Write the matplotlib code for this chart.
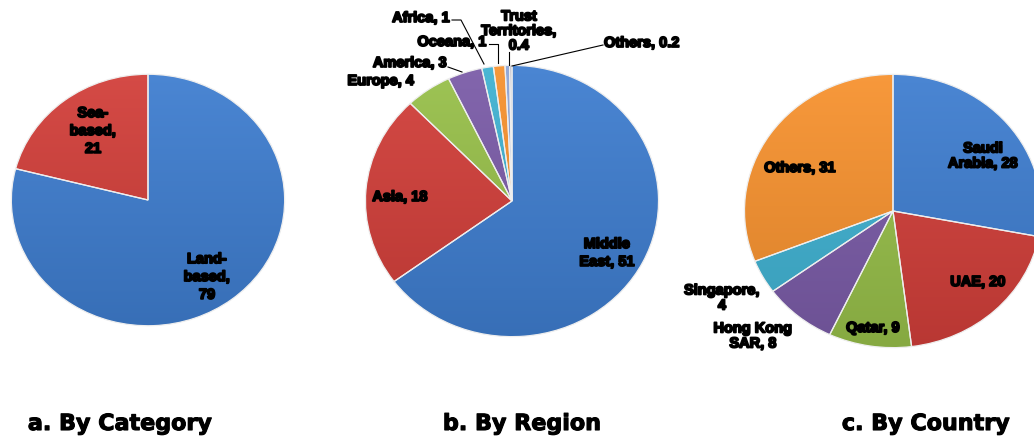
import numpy as np
import matplotlib
matplotlib.use("Agg")
import matplotlib.pyplot as plt
from matplotlib.colors import LinearSegmentedColormap, to_rgb
from matplotlib.lines import Line2D
import matplotlib.patheffects as pe

# a. By Category
cat_names = ["Land-\nbased", "Sea-\nbased"]
cat_values = [79, 21]
cat_sep = ["\n", "\n"]

# b. By Region
reg_names = ["Middle\nEast", "Asia", "Europe", "America", "Africa", "Oceana",
             "Trust\nTerritories", "Others"]
reg_values = [51, 18, 4, 3, 1, 1, 0.4, 0.2]
reg_sep = [" ", " ", " ", " ", " ", " ", "\n", " "]

# c. By Country
cty_names = ["Saudi\nArabia", "UAE", "Qatar", "Hong Kong\nSAR", "Singapore", "Others"]
cty_values = [28, 20, 9, 8, 4, 31]
cty_sep = [" ", " ", " ", " ", "\n", " "]

titles = ["a. By Category", "b. By Region", "c. By Country"]

blue, red, green, purple = "#3F7ED0", "#D23F3A", "#98C04A", "#7B5CA8"
cyan, orange, lblue, grey = "#40B2D2", "#F7922F", "#8EA5D6", "#9A9AAE"
cat_colors = [blue, red]
reg_colors = [blue, red, green, purple, cyan, orange, lblue, grey]
cty_colors = [blue, red, green, purple, cyan, orange]

W, H = 1034, 438
fig = plt.figure(figsize=(W / 100, H / 100), dpi=100)

lab_font = dict(family=["Liberation Sans", "DejaVu Sans"], weight="bold",
                fontsize=10.5, ha="center", va="center", linespacing=1.35,
                path_effects=[pe.withStroke(linewidth=1.3, foreground="black")])


def mix(c, other, t):
    c = np.array(to_rgb(c))
    return tuple(c * (1 - t) + np.array(other) * t)


def draw_pie(cx, cy, rx, ry, values, colors):
    ax = fig.add_axes([(cx - rx) / W, (H - cy - ry) / H, 2 * rx / W, 2 * ry / H])
    wedges, _ = ax.pie(values, colors=colors, startangle=90, counterclock=False,
                       radius=1, wedgeprops=dict(edgecolor="#eeeeee", linewidth=0.9))
    grad = np.linspace(0, 1, 256).reshape(-1, 1)
    for w, c in zip(wedges, colors):
        cm = LinearSegmentedColormap.from_list("g", [mix(c, (1, 1, 1), 0.06),
                                                      mix(c, (0, 0, 0), 0.12)])
        im = ax.imshow(grad, extent=(-1, 1, -1, 1), cmap=cm, aspect="auto",
                       origin="upper", zorder=0.5)
        im.set_clip_path(w)
        w.set_facecolor("none")
        w.set_zorder(1)
    ax.set_xlim(-1.01, 1.01)
    ax.set_ylim(-1.01, 1.01)
    ax.set_aspect("auto")
    ax.axis("off")
    return ax


def label(x, y, s, **kw):
    d = dict(lab_font)
    d.update(kw)
    fig.text(x / W, 1 - y / H, s, **d)


def leader(xs, ys):
    fig.add_artist(Line2D([x / W for x in xs], [1 - y / H for y in ys],
                          color="black", lw=0.8))


def texts(names, values, seps):
    return [f"{n},{s}{v:g}" for n, v, s in zip(names, values, seps)]


draw_pie(148, 200, 138, 127, cat_values, cat_colors)
draw_pie(512, 201, 148, 137, reg_values, reg_colors)
draw_pie(893, 211, 150, 138, cty_values, cty_colors)

# labels pie a
ta = texts(cat_names, cat_values, cat_sep)
label(207, 277, ta[0])
label(93, 131, ta[1])

# labels pie b
tb = texts(reg_names, reg_values, reg_sep)
pos_b = [(607, 253), (400, 197), (381, 81), (410, 63), (421, 18), (452, 42),
         (519, 31), (642, 43)]
for (x, y), s in zip(pos_b, tb):
    label(x, y, s, linespacing=1.05 if "Trust" in s else 1.35)
leader([452, 461, 484], [20, 20, 64])
leader([489, 498, 498], [44, 44, 63])
leader([509, 509], [52, 65])
leader([603, 512], [45, 66])
leader([448, 462], [67, 72])

# labels pie c
tc = texts(cty_names, cty_values, cty_sep)
pos_c = [(983, 156), (978, 282), (873, 328), (753, 336), (722, 298), (800, 168)]
for (x, y), s in zip(pos_c, tc):
    label(x, y, s, linespacing=1.1)

# titles
for x, t in zip([120, 522, 926], titles):
    fig.text(x / W, 1 - 424 / H, t, ha="center", va="center", fontsize=16,
             weight="heavy", family="DejaVu Sans",
             path_effects=[pe.withStroke(linewidth=0.8, foreground="black")])

fig.savefig("out.png", dpi=100)
